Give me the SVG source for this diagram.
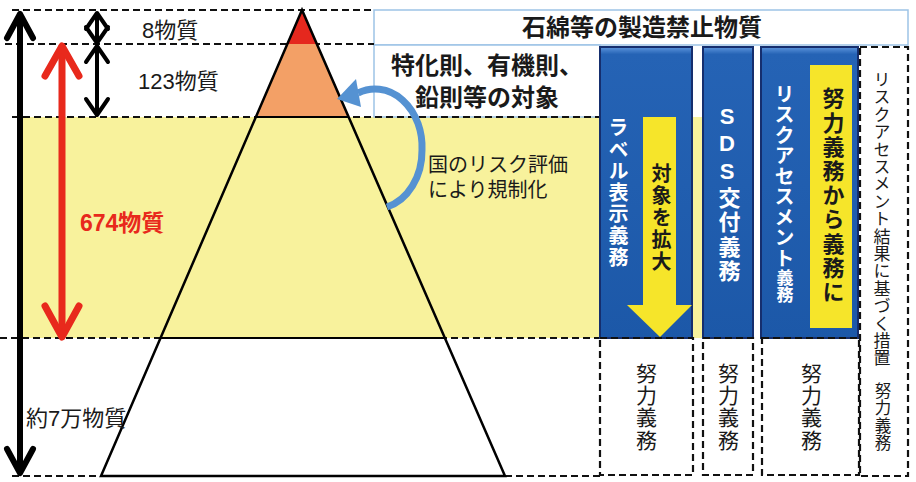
<svg xmlns="http://www.w3.org/2000/svg" width="916" height="482" viewBox="0 0 916 482">
<style>
.jp{font-family:"Liberation Sans","Noto Sans CJK JP","Noto Sans CJK SC",sans-serif;fill:#1a1a1a}
.b{font-weight:bold}
.w{fill:#ffffff}
.v{writing-mode:vertical-rl;text-orientation:upright}
.dash{fill:none;stroke:#111;stroke-width:2.2;stroke-dasharray:7 4}
.col{fill:url(#blue);stroke:#152e6e;stroke-width:2}
.ylw{fill:#f6e52a}
.arrk{fill:none;stroke:#000;stroke-linecap:round;stroke-linejoin:round}
.arrr{fill:none;stroke:#e8291c;stroke-width:7;stroke-linecap:round;stroke-linejoin:round}
.lb{fill:#ffffff;stroke:#9dc3e6;stroke-width:1.5}
</style>
<defs>
<linearGradient id="blue" x1="0" y1="0" x2="0" y2="1">
<stop offset="0" stop-color="#5d95dc"/>
<stop offset="0.025" stop-color="#2563b5"/>
<stop offset="1" stop-color="#1c58a8"/>
</linearGradient>
</defs>
<rect width="916" height="482" fill="#ffffff"/>

<g id="band">
<rect x="20" y="117" width="683" height="221" fill="#f8f29c"/>
</g>

<g id="banned">
<rect class="lb" x="374" y="10" width="534" height="35"/>
<text class="jp b" x="642" y="36" font-size="24" text-anchor="middle">石綿等の製造禁止物質</text>
</g>

<g id="special-rules">
<rect class="lb" x="374" y="45" width="226" height="72"/>
<text class="jp b" x="487" y="74" font-size="24" text-anchor="middle">特化則、有機則、</text>
<text class="jp b" x="487" y="106" font-size="24" text-anchor="middle">鉛則等の対象</text>
</g>

<g id="levels">
<line class="dash" x1="12" y1="10" x2="374" y2="10"/>
<line class="dash" x1="5" y1="44" x2="374" y2="44"/>
<line class="dash" x1="12" y1="117" x2="600" y2="117"/>
<line class="dash" x1="0" y1="338" x2="600" y2="338"/>
<line class="dash" x1="12" y1="476" x2="101" y2="476"/>
<line class="dash" x1="505" y1="476" x2="600" y2="476"/>
</g>

<g id="pyramid">
<polygon points="302,10 316.8,44 287.3,44" fill="#e5281e"/>
<polygon points="287.3,44 316.8,44 348.6,117 255.9,117" fill="#f3a066"/>
<line x1="255.9" y1="117" x2="348.6" y2="117" stroke="#000" stroke-width="2"/>
<line x1="160.5" y1="338" x2="444.9" y2="338" stroke="#000" stroke-width="2"/>
<polygon points="302,10 101,476 505,476" fill="none" stroke="#000" stroke-width="2.5" stroke-linejoin="miter"/>
</g>

<g id="level-labels">
<text class="jp" x="142" y="38" font-size="22">8物質</text>
<text class="jp" x="138" y="89" font-size="22">123物質</text>
<text class="jp b" x="80" y="231" font-size="23" style="fill:#e8291c">674物質</text>
<text class="jp" x="26" y="426" font-size="22">約7万物質</text>
</g>

<g id="risk-label">
<text class="jp" font-size="20"><tspan x="428" y="172">国のリスク評価</tspan><tspan x="428" y="197">により規制化</tspan></text>
</g>

<g id="label-duty">
<rect class="col" x="600" y="47" width="92" height="291"/>
<polygon class="ylw" points="643,117 676,117 676,305 692,305 660,337 627,305 643,305"/>
<text class="jp b w v" x="617" y="193" font-size="20" letter-spacing="1.6" text-anchor="middle">ラベル表示義務</text>
<text class="jp b v" x="660" y="218" font-size="20" letter-spacing="2" text-anchor="middle">対象を拡大</text>
</g>

<g id="sds-duty">
<rect class="col" x="703" y="47" width="50" height="291"/>
<text class="jp b w v" x="727" y="194" font-size="22" letter-spacing="2.5" text-anchor="middle">SDS交付義務</text>
</g>

<g id="ra-duty">
<rect class="col" x="761" y="47" width="97" height="291"/>
<text class="jp b w v" x="783" y="84" font-size="20" letter-spacing="0.5">リスクアセスメント<tspan font-size="17">義務</tspan></text>
<rect class="ylw" x="810" y="65" width="42" height="263"/>
<text class="jp b v" x="831" y="196" font-size="22" letter-spacing="2.2" text-anchor="middle">努力義務から義務に</text>
</g>

<g id="ra-measures">
<rect class="dash" x="860" y="47" width="48" height="429"/>
<text class="jp v" x="880" y="219" font-size="17" letter-spacing="0.4" text-anchor="middle">リスクアセスメント結果に基づく措置</text>
<text class="jp v" x="882" y="417" font-size="16.5" letter-spacing="1" text-anchor="middle">努力義務</text>
</g>

<g id="effort-boxes">
<rect class="dash" x="600" y="338" width="93" height="137"/>
<rect class="dash" x="703" y="338" width="50" height="137"/>
<rect class="dash" x="762" y="338" width="97" height="137"/>
<text class="jp v" x="645" y="407" font-size="21" letter-spacing="1.3" text-anchor="middle">努力義務</text>
<text class="jp v" x="727" y="407" font-size="21" letter-spacing="1.3" text-anchor="middle">努力義務</text>
<text class="jp v" x="810" y="407" font-size="21" letter-spacing="1.3" text-anchor="middle">努力義務</text>
</g>

<g id="connectors">
<line class="arrk" x1="20" y1="15" x2="20" y2="472" stroke-width="6"/>
<polyline class="arrk" points="7,38 20,14 33,38" stroke-width="6"/>
<polyline class="arrk" points="7,449 20,473 33,449" stroke-width="6"/>
<line class="arrk" x1="97" y1="14" x2="97" y2="42" stroke-width="4"/>
<polyline class="arrk" points="86,29 97,13 108,29" stroke-width="4"/>
<polyline class="arrk" points="86,27 97,43 108,27" stroke-width="4"/>
<line class="arrk" x1="97" y1="47" x2="97" y2="114" stroke-width="4"/>
<polyline class="arrk" points="86,62 97,46 108,62" stroke-width="4"/>
<polyline class="arrk" points="86,99 97,115 108,99" stroke-width="4"/>
<line class="arrr" x1="62" y1="47" x2="62" y2="336"/>
<polyline class="arrr" points="45,76 62,46 79,76"/>
<polyline class="arrr" points="45,306 62,337 79,306"/>
<path d="M387,207 A47,58 0 0 0 422,150 A47,58 0 0 0 358,93" fill="none" stroke="#5592d2" stroke-width="7"/>
<polygon points="337,99 356,79 361,107" fill="#5592d2"/>
</g>
</svg>
